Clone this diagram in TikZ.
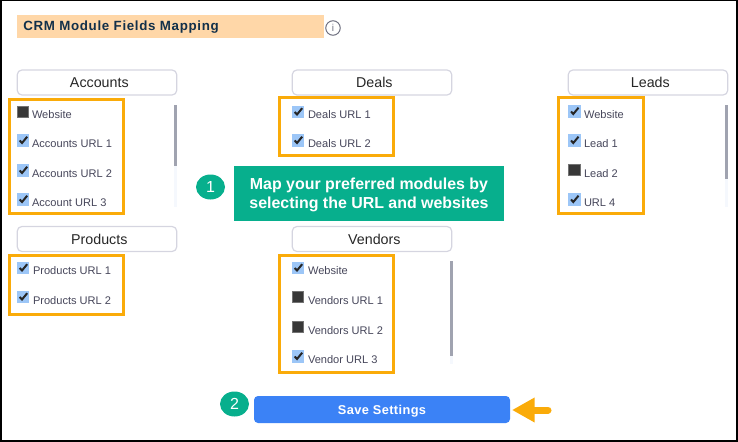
\documentclass[tikz,border=0pt]{standalone}
\usepackage{fontspec}
\setmainfont{Liberation Sans}
\usetikzlibrary{arrows.meta, positioning, shapes.geometric}

\definecolor{titlebg}{HTML}{FFD7A8}
\definecolor{titleink}{HTML}{12304A}
\definecolor{headline}{HTML}{D5D5E0}
\definecolor{groupline}{HTML}{FAAB09}
\definecolor{itemink}{HTML}{46465A}
\definecolor{tickfill}{HTML}{9CC6F7}
\definecolor{thumb}{HTML}{A0A3B0}
\definecolor{track}{HTML}{F5F8FD}
\definecolor{banner}{HTML}{07AF8D}
\definecolor{savebtn}{HTML}{3B82F6}
\definecolor{infoink}{HTML}{6E7080}

\tikzset{
    pxsize/.style 2 args={minimum width=#1*0.75pt, minimum height=#2*0.75pt, inner sep=0pt, outer sep=0pt},
    header/.style={draw=headline, line width=0.9pt, rounded corners=3.5pt, pxsize={159.5}{25}, font=\fontsize{10.7}{12}\selectfont, text=black!85, execute at begin node=\hspace*{3.5pt}},
    group/.style={draw=groupline, line width=2.25pt, rectangle},
    tickbox/.style={pxsize={12.5}{12.5}, rectangle},
    chkon/.style={tickbox, fill=tickfill, path picture={
        \draw[line width=1.5pt, black!85] ([shift={(-3.5,0)}]path picture bounding box.center)
            -- ([shift={(-1.2,2.5)}]path picture bounding box.center)
            -- ([shift={(4,-3.8)}]path picture bounding box.center);}},
    chkoff/.style={rectangle, pxsize={11.5}{11.5}, fill=black!78, draw=black!55, line width=0.75pt},
    item/.style={anchor=west, inner sep=0pt, outer sep=0pt, text=itemink, font=\fontsize{8.3}{10}\selectfont},
    num badge/.style={ellipse, fill=banner, text=white, inner sep=0pt, font=\fontsize{12}{13}\selectfont},
    bar/.style={rectangle, inner sep=0pt, outer sep=0pt}
}

\begin{document}
\begin{tikzpicture}[x=0.75pt, y=-0.75pt]
    \useasboundingbox (0,0) rectangle (738,442);
    \node[draw=black, line width=1.5pt, pxsize={736}{440}] (frame) at (369,220.5) {};

    % Title
    \node[fill=titlebg, pxsize={307}{23}] (title bar) at (170.5,26.5) {};
    \node[anchor=west, inner sep=0pt, text=titleink, font=\fontsize{10}{12}\bfseries\selectfont] (title) at (23,27) {\addfontfeatures{LetterSpace=5}CRM Module Fields Mapping};
    \node[circle, draw=infoink, line width=0.75pt, minimum size=14.5*0.75pt, inner sep=0pt, text=infoink, font=\fontsize{7.5}{8}\selectfont] (info) at (333,28) {i};

    % Headers
    \node[header] (accounts) at (97,82.5) {Accounts};
    \node[header] (deals) at (372,82.5) {Deals};
    \node[header] (leads) at (648,82.5) {Leads};
    \node[header] (products) at (97,239) {Products};
    \node[header] (vendors) at (372,239) {Vendors};

    % Orange groups
    \node[group, pxsize={114}{114}] (accounts group) at (66,156.5) {};
    \node[group, pxsize={114}{58}] (deals group) at (336,127) {};
    \node[group, pxsize={85}{115}] (leads group) at (601,155.5) {};
    \node[group, pxsize={114}{59}] (products group) at (66,285) {};
    \node[group, pxsize={114}{117}] (vendors group) at (336,314) {};

    % Scroll bars
    \node[bar, fill=track, pxsize={3}{102}] (accounts track) at (175.5,156) {};
    \node[bar, fill=thumb, pxsize={3}{61}] (accounts thumb) at (175.5,135.5) {};
    \node[bar, fill=track, pxsize={3}{102}] (leads track) at (726.5,156) {};
    \node[bar, fill=thumb, pxsize={3}{74}] (leads thumb) at (726.5,142) {};
    \node[bar, fill=track, pxsize={3}{103}] (vendors track) at (451.5,312.5) {};
    \node[bar, fill=thumb, pxsize={3}{95}] (vendors thumb) at (451.5,308.5) {};

    % Accounts
    \node[chkoff] (acc web box) at (23.2,112) {};
    \node[item] (acc web) at (32,115) {Website};
    \node[chkon] (acc one box) at (23.2,140.5) {};
    \node[item] (acc one) at (32,144) {Accounts URL 1};
    \node[chkon] (acc two box) at (23.2,170.5) {};
    \node[item] (acc two) at (32,174) {Accounts URL 2};
    \node[chkon] (acc three box) at (23.2,199.5) {};
    \node[item] (acc three) at (32,203) {Account URL 3};

    % Deals
    \node[chkon] (deal one box) at (298.2,112) {};
    \node[item] (deal one) at (308,115) {Deals URL 1};
    \node[chkon] (deal two box) at (298.2,140.5) {};
    \node[item] (deal two) at (308,144) {Deals URL 2};

    % Leads
    \node[chkon] (lead web box) at (574.5,111.5) {};
    \node[item] (lead web) at (584,115) {Website};
    \node[chkon] (lead one box) at (574.5,140.5) {};
    \node[item] (lead one) at (584,144) {Lead 1};
    \node[chkoff] (lead two box) at (574.5,170) {};
    \node[item] (lead two) at (584,174) {Lead 2};
    \node[chkon] (lead four box) at (574.5,199.5) {};
    \node[item] (lead four) at (584,203) {URL 4};

    % Products
    \node[chkon] (prod one box) at (23.2,268) {};
    \node[item] (prod one) at (33,271) {Products URL 1};
    \node[chkon] (prod two box) at (23.2,297) {};
    \node[item] (prod two) at (33,301) {Products URL 2};

    % Vendors
    \node[chkon] (vend web box) at (298.2,268) {};
    \node[item] (vend web) at (308,271) {Website};
    \node[chkoff] (vend one box) at (298.2,297) {};
    \node[item] (vend one) at (308,301) {Vendors URL 1};
    \node[chkoff] (vend two box) at (298.2,327) {};
    \node[item] (vend two) at (308,331) {Vendors URL 2};
    \node[chkon] (vend three box) at (298.2,356.5) {};
    \node[item] (vend three) at (308,360) {Vendor URL 3};

    % Callouts
    \node[num badge, minimum width=29*0.75pt, minimum height=25*0.75pt] (one) at (210.5,187) {1};
    \node[fill=banner, pxsize={270}{55}] (hint box) at (369,193.5) {};
    \node[align=center, inner sep=0pt, text=white, font=\fontsize{11.95}{14.2}\bfseries\selectfont] (hint) at (369,194.5) {Map your preferred modules by\\selecting the URL and websites};
    \node[num badge, minimum width=29*0.75pt, minimum height=25*0.75pt] (two) at (234.5,404) {2};
    \node[fill=savebtn, rounded corners=3pt, pxsize={256}{27}, text depth=0pt, text=white, font=\fontsize{9.6}{11}\bfseries\selectfont] (save) at (382,409.5) {\addfontfeatures{LetterSpace=3}Save Settings};

    % Connections
    \coordinate (save tail) at (548,410);
    \draw[groupline, line width=5.25pt, line cap=round, shorten >=1.5pt, arrows={-Triangle[length=17pt, width=17.5pt]}] (save tail) -- (save.east |- save tail);
\end{tikzpicture}
\end{document}
